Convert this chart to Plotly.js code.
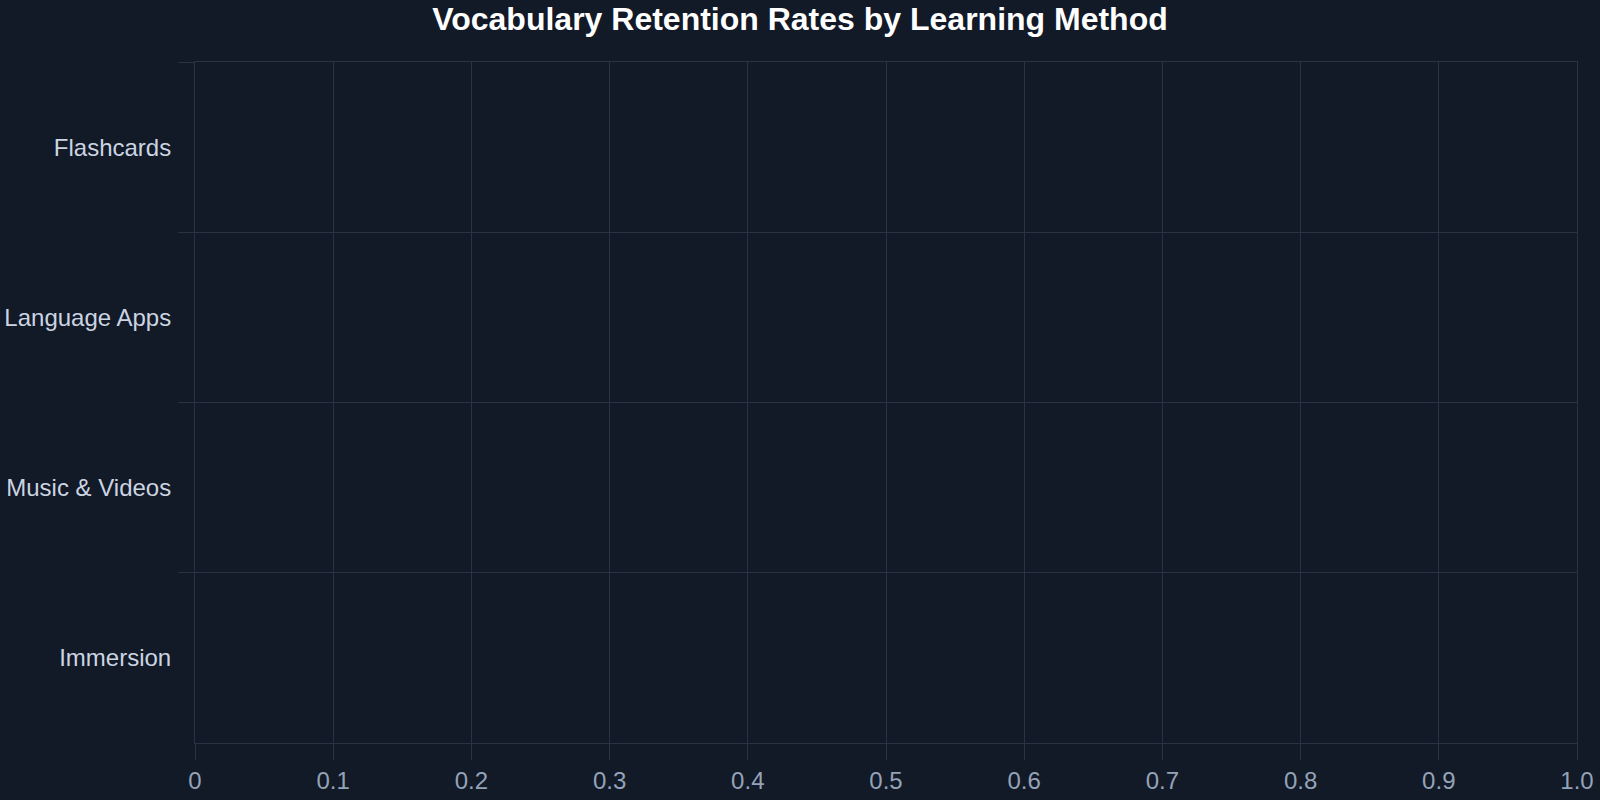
<!DOCTYPE html>
<html>
<head>
<meta charset="utf-8">
<script src="https://cdn.plot.ly/plotly-3.0.1.min.js"></script>
<style>
  html, body { margin: 0; padding: 0; background: #121927; }
  #chart { width: 1600px; height: 800px; }
</style>
</head>
<body>
<div id="chart"></div>
<script>
// categories top to bottom
var methods = ["Flashcards", "Language Apps", "Music & Videos", "Immersion"];
// no retention values are drawn in the picture
var retention = [null, null, null, null];
var xTicks = [0, 0.1, 0.2, 0.3, 0.4, 0.5, 0.6, 0.7, 0.8, 0.9, 1.0];
var xTickText = ["0", "0.1", "0.2", "0.3", "0.4", "0.5", "0.6", "0.7", "0.8", "0.9", "1.0"];

var gridCol = "#2b3244";

var data = [{
  type: "bar",
  orientation: "h",
  y: methods,
  x: retention,
  marker: {color: "#60a5fa"},
  hoverinfo: "skip"
}];

var layout = {
  width: 1600,
  height: 800,
  paper_bgcolor: "#121927",
  plot_bgcolor: "#121927",
  font: {family: "Liberation Sans, Arial, sans-serif", color: "#cbd5e1"},
  margin: {l: 195, r: 23, t: 62, b: 57},
  showlegend: false,
  title: {
    text: "<b>Vocabulary Retention Rates by Learning Method</b>",
    font: {size: 32, color: "#ffffff"},
    x: 0.5, xref: "container", xanchor: "center",
    y: 0.976, yref: "container", yanchor: "middle"
  },
  xaxis: {
    range: [0, 1],
    tickvals: xTicks,
    ticktext: xTickText,
    tickfont: {size: 24, color: "#94a3b8"},
    showgrid: true,
    gridcolor: gridCol,
    zeroline: false,
    showline: true,
    linecolor: gridCol,
    mirror: true,
    ticks: "outside",
    ticklen: 16,
    tickcolor: gridCol
  },
  yaxis: {
    type: "category",
    categoryorder: "array",
    categoryarray: methods,
    range: [3.5, -0.5],
    tickson: "boundaries",
    tickfont: {size: 24, color: "#cbd5e1"},
    ticklabelstandoff: 18,
    showgrid: true,
    gridcolor: gridCol,
    zeroline: false,
    showline: true,
    linecolor: gridCol,
    mirror: true,
    ticks: "outside",
    ticklen: 16,
    tickcolor: gridCol
  }
};

Plotly.newPlot("chart", data, layout, {displayModeBar: false, staticPlot: true});
</script>
</body>
</html>
